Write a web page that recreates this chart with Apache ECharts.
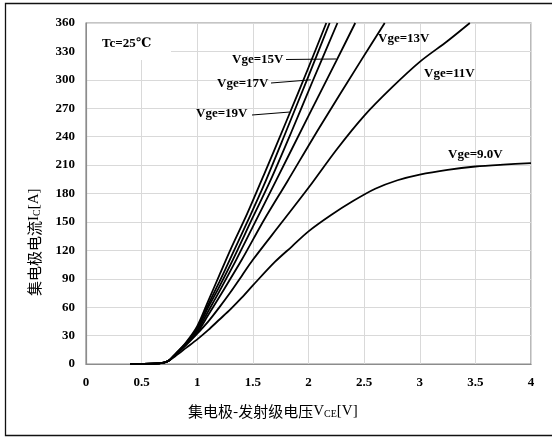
<!DOCTYPE html>
<html><head><meta charset="utf-8">
<script src="https://cdn.jsdelivr.net/npm/echarts@6/dist/echarts.min.js"></script>
<style>html,body{margin:0;padding:0;background:#fff}#c{width:552px;height:437px}</style>
</head><body><div id="c"></div>
<script>
// Series names (gate voltages)
const seriesNames = ['Vge=19V', 'Vge=18V', 'Vge=17V', 'Vge=15V', 'Vge=13V', 'Vge=11V', 'Vge=9.0V'];
// Tick values
const xTicks = [0, 0.5, 1, 1.5, 2, 2.5, 3, 3.5, 4];
const yTicks = [0, 30, 60, 90, 120, 150, 180, 210, 240, 270, 300, 330, 360];
// [VCE, IC]
const vge19 = [[0.4,0],[0.6,0.3],[0.7,1.5],[0.75,4],[0.8,10],[0.9,23],[1.0,40],[1.1,67],[1.2,94],[1.3,121],[1.45,159],[1.6,200],[1.8,256],[2.0,313],[2.16,360]];
const vge18 = [[0.4,0],[0.6,0.3],[0.7,1.5],[0.75,4],[0.8,10],[0.9,22],[1.0,38],[1.1,63],[1.2,87],[1.3,112],[1.45,150],[1.6,189],[1.8,246],[2.0,304],[2.19,360]];
const vge17 = [[0.4,0],[0.6,0.3],[0.7,1.5],[0.75,4],[0.8,10],[0.9,22],[1.0,37],[1.1,60],[1.2,82],[1.32,110],[1.5,155],[1.655,193],[1.85,246],[2.035,298],[2.26,360]];
const vge15 = [[0.4,0],[0.6,0.3],[0.7,1.5],[0.75,4],[0.8,10],[0.9,21],[1.0,35],[1.1,56],[1.2,77],[1.35,110],[1.5,145],[1.706,193],[2.0,262],[2.25,320],[2.42,360]];
const vge13 = [[0.4,0],[0.6,0.3],[0.7,1.5],[0.75,4],[0.8,9.5],[0.9,21],[1.0,33],[1.1,52],[1.2,71],[1.4,110],[1.6,152],[1.811,193],[2.1,250],[2.47,320],[2.685,360]];
const vge11 = [[0.4,0],[0.6,0.3],[0.7,1.5],[0.75,4],[0.8,9],[0.9,20],[1.0,32],[1.1,45],[1.2,60],[1.3,76],[1.4,93],[1.5,110],[1.75,148],[2.0,186],[2.25,226],[2.5,262],[2.75,292],[3.0,319],[3.25,341],[3.45,360]];
const vge9 = [[0.4,0],[0.6,0.3],[0.7,1.5],[0.75,4],[0.8,8],[0.9,17],[1.0,26],[1.1,36],[1.2,47],[1.3,58],[1.4,70],[1.5,83],[1.7,108],[1.85,124],[2.0,140],[2.2,157],[2.4,172],[2.6,185],[2.8,194],[3.0,200],[3.25,205],[3.5,208.5],[3.75,210.5],[4.0,212]];
const seriesData = [vge19, vge18, vge17, vge15, vge13, vge11, vge9];

const SERIF = '"Liberation Serif","DejaVu Serif",serif';
const chart = echarts.init(document.getElementById('c'), null, {renderer: 'canvas'});

const option = {
  animation: false,
  backgroundColor: '#fff',
  grid: {left: 86, right: 21, top: 23, bottom: 73, show: true, borderColor: '#8c8c8c', borderWidth: 1.2, backgroundColor: 'transparent'},
  xAxis: {
    type: 'value', min: xTicks[0], max: xTicks[xTicks.length-1], interval: 0.5,
    axisLine: {show: true, lineStyle: {color: '#8c8c8c', width: 1.2}},
    axisTick: {show: false},
    splitLine: {show: true, lineStyle: {color: '#d9d9d9', width: 1}},
    axisLabel: {margin: 12, color: '#000', fontFamily: SERIF, fontWeight: 'bold', fontSize: 13,
      formatter: v => String(v)}
  },
  yAxis: {
    type: 'value', min: yTicks[0], max: yTicks[yTicks.length-1], interval: 30,
    axisLine: {show: true, lineStyle: {color: '#8c8c8c', width: 1.2}},
    axisTick: {show: false},
    splitLine: {show: true, lineStyle: {color: '#d9d9d9', width: 1}},
    axisLabel: {margin: 11, color: '#000', fontFamily: SERIF, fontWeight: 'bold', fontSize: 13}
  },
  series: seriesData.map((d, i) => ({
    name: seriesNames[i], type: 'line', data: d, smooth: 0.3, showSymbol: false, symbol: 'none',
    lineStyle: {color: '#000', width: 1.8}, z: 5
  }))
};
chart.setOption(option);

// annotation labels (text position in px, leader end on curve in data coords)
const labels = [
  {text: 'Vge=15V', x: 232, y: 60, lead: [2.25, 322], from: [286, 59.5]},
  {text: 'Vge=17V', x: 217, y: 83.5, lead: [2.02, 300], from: [271, 83]},
  {text: 'Vge=19V', x: 196, y: 114, lead: [1.83, 266], from: [252, 115]},
  {text: 'Vge=13V', x: 378, y: 38.5},
  {text: 'Vge=11V', x: 424, y: 74},
  {text: 'Vge=9.0V', x: 448, y: 155}
];
const graphics = [
  {type: 'rect', shape: {x: 87, y: 24, width: 84, height: 36}, style: {fill: '#fff'}, z: 3},
  {type: 'text', x: 102, y: 43.5, z: 10, style: {text: 'Tc=25℃', font: 'bold 13px ' + SERIF, fill: '#000', textAlign: 'left', textVerticalAlign: 'middle', align: 'left', verticalAlign: 'middle'}},
  {type: 'rect', shape: {x: 5.5, y: 3.5, width: 560, height: 432}, style: {fill: 'none', stroke: '#111', lineWidth: 1.3}, z: 1},
  {type: 'text', x: 188, y: 411, z: 10, style: {
    text: '集电极-发射级电压{v|V}{s|CE}{v|[V]}', font: '15px "Noto Sans CJK SC"', fill: '#000',
    textAlign: 'left', textVerticalAlign: 'middle', align: 'left', verticalAlign: 'middle',
    rich: {v: {font: '15px ' + SERIF, fill: '#000'}, s: {font: '10px ' + SERIF, fill: '#000', padding: [6, 0, 0, 0]}}}},
  {type: 'text', x: 34, y: 296, rotation: Math.PI / 2, z: 10, style: {
    text: '集电极电流{v|I}{s|C}{v|[A]}', font: '15px "Noto Sans CJK SC"', fill: '#000',
    textAlign: 'left', textVerticalAlign: 'middle', align: 'left', verticalAlign: 'middle',
    rich: {v: {font: '15px ' + SERIF, fill: '#000'}, s: {font: '10px ' + SERIF, fill: '#000', padding: [6, 0, 0, 0]}}}}
];
labels.forEach(l => {
  graphics.push({type: 'text', x: l.x, y: l.y, z: 10, style: {text: l.text, font: 'bold 13px ' + SERIF, fill: '#000', textAlign: 'left', textVerticalAlign: 'middle', align: 'left', verticalAlign: 'middle'}});
  if (l.lead) {
    const p = chart.convertToPixel({gridIndex: 0}, l.lead);
    graphics.push({type: 'line', z: 10, shape: {x1: l.from[0], y1: l.from[1], x2: p[0], y2: p[1]}, style: {stroke: '#000', lineWidth: 1}});
  }
});
chart.setOption({graphic: graphics});
</script></body></html>
